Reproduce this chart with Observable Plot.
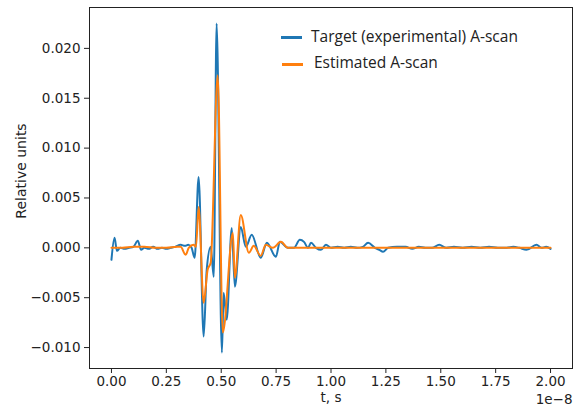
<!DOCTYPE html>
<html>
<head>
<meta charset="utf-8">
<script src="https://cdn.jsdelivr.net/npm/d3@7"></script>
<script src="https://cdn.jsdelivr.net/npm/@observablehq/plot@0.6"></script>
<style>
  html, body { margin: 0; padding: 0; background: #fff; }
  #wrap { position: relative; width: 585px; height: 409px; }
  .leg-line { position: absolute; height: 2.5px; width: 21px; }
  .leg-text { position: absolute; font-family: "Open Sans", sans-serif; font-size: 15.5px; line-height: 20px; color: #222; white-space: nowrap; }
  .ylab { position: absolute; left: 21px; top: 171px; transform: translate(-50%, -50%) rotate(-90deg); font-family: "DejaVu Sans", sans-serif; font-size: 14px; color: #222; white-space: nowrap; }
</style>
</head>
<body>
<div id="wrap">
  <div id="chart"></div>
  <div class="leg-line" style="left:281px;top:36px;background:#1f77b4"></div>
  <div class="leg-text" style="left:311px;top:26px">Target (experimental) A-scan</div>
  <div class="leg-line" style="left:282px;top:63px;background:#ff7f0e"></div>
  <div class="leg-text" style="left:314px;top:52px">Estimated A-scan</div>
  <div class="ylab">Relative units</div>
</div>
<script>
// time in units of 1e-8 s
const tTarget = [0.000,0.014,0.025,0.04,0.06,0.08,0.10,0.12,0.135,0.15,0.17,0.19,0.21,0.23,0.25,0.27,0.29,0.315,0.335,0.35,0.365,0.379,0.397,0.420,0.434,0.452,0.466,0.479,0.503,0.511,0.525,0.548,0.562,0.589,0.612,0.639,0.680,0.708,0.749,0.767,0.804,0.831,0.858,0.877,0.895,0.909,0.932,0.954,0.977,1.00,1.03,1.06,1.09,1.12,1.145,1.169,1.20,1.22,1.237,1.26,1.30,1.34,1.37,1.40,1.43,1.46,1.493,1.525,1.56,1.60,1.64,1.68,1.72,1.76,1.80,1.83,1.858,1.89,1.936,1.959,1.98,2.00];
const target = [-0.0012,0.0010,-0.0003,0.0000,-0.0001,0.0000,0.0001,0.0007,-0.0002,0.0000,-0.0001,0.0001,-0.0001,0.0000,-0.0001,0.0000,0.0001,0.0003,0.0002,0.0003,0.0000,-0.0010,0.0071,-0.0089,-0.0022,0.0001,-0.0029,0.0225,-0.0105,-0.0045,-0.0072,0.0020,-0.0039,0.0021,0.0001,0.0013,-0.0010,0.0005,-0.0009,0.0006,0.0000,0.0000,0.0008,0.0006,0.0000,0.0005,0.0000,-0.0002,0.0003,0.0000,0.0001,0.0000,0.0001,0.0000,0.0001,0.0005,0.0000,-0.0002,-0.0004,0.0000,0.0001,0.0001,-0.0001,0.0001,0.0000,0.0000,0.0003,0.0000,0.0001,0.0000,0.0001,0.0000,0.0001,0.0000,0.0000,0.0001,0.0000,-0.0002,0.0003,0.0000,0.0001,-0.0001];

const tEstimated = [0.000,0.05,0.10,0.15,0.20,0.25,0.30,0.315,0.338,0.352,0.374,0.385,0.397,0.420,0.438,0.452,0.484,0.507,0.553,0.562,0.589,0.626,0.648,0.680,0.703,0.735,0.772,0.804,0.83,0.86,0.90,1.00,1.10,1.20,1.30,1.40,1.50,1.60,1.70,1.80,1.90,2.00];
const estimated = [0.0000,0.0000,0.0001,0.0001,0.0000,0.0000,0.0001,0.0001,-0.0007,0.0000,0.0003,0.0001,0.0041,-0.0055,-0.0022,-0.0015,0.0173,-0.0085,0.0015,-0.0030,0.0033,-0.0005,0.0002,-0.0008,0.0003,0.0000,0.0006,0.0000,0.0000,0.0000,0.0000,0.0000,0.0000,0.0000,0.0000,0.0000,0.0000,0.0000,0.0000,0.0000,0.0000,0.0000];

const xTicks = [0, 0.25, 0.5, 0.75, 1.0, 1.25, 1.5, 1.75, 2.0];
const yTicks = [-0.010, -0.005, 0.000, 0.005, 0.010, 0.015, 0.020];

const targetData = tTarget.map((t, i) => ({t, v: target[i]}));
const estData = tEstimated.map((t, i) => ({t, v: estimated[i]}));

const ink = "#222";
const chart = Plot.plot({
  width: 585,
  height: 409,
  marginLeft: 89,
  marginRight: 13,
  marginTop: 7,
  marginBottom: 41,
  style: {fontFamily: "DejaVu Sans", fontSize: "13.5px", color: ink, background: "white", overflow: "visible"},
  x: {domain: [-0.1, 2.1]},
  y: {domain: [-0.0121, 0.0241]},
  marks: [
    Plot.axisX({ticks: xTicks, tickFormat: d3.format(".2f"), tickSize: 5, tickPadding: 3, label: null, stroke: ink}),
    Plot.axisY({ticks: yTicks, tickFormat: d3.format(".3f"), tickSize: 5, tickPadding: 4, label: null, stroke: ink}),
    Plot.line(targetData, {x: "t", y: "v", stroke: "#1f77b4", strokeWidth: 2, curve: "monotone-x"}),
    Plot.line(estData, {x: "t", y: "v", stroke: "#ff7f0e", strokeWidth: 2, curve: "monotone-x"}),
    Plot.frame({stroke: ink, strokeWidth: 1}),
    Plot.text(["t, s"], {frameAnchor: "bottom", dy: 33, fontSize: 13.5, fill: ink}),
    Plot.text(["1e\u22128"], {frameAnchor: "bottom-right", dy: 35, textAnchor: "end", fontSize: 13.5, fill: ink})
  ]
});
document.getElementById("chart").appendChild(chart);
</script>
</body>
</html>
